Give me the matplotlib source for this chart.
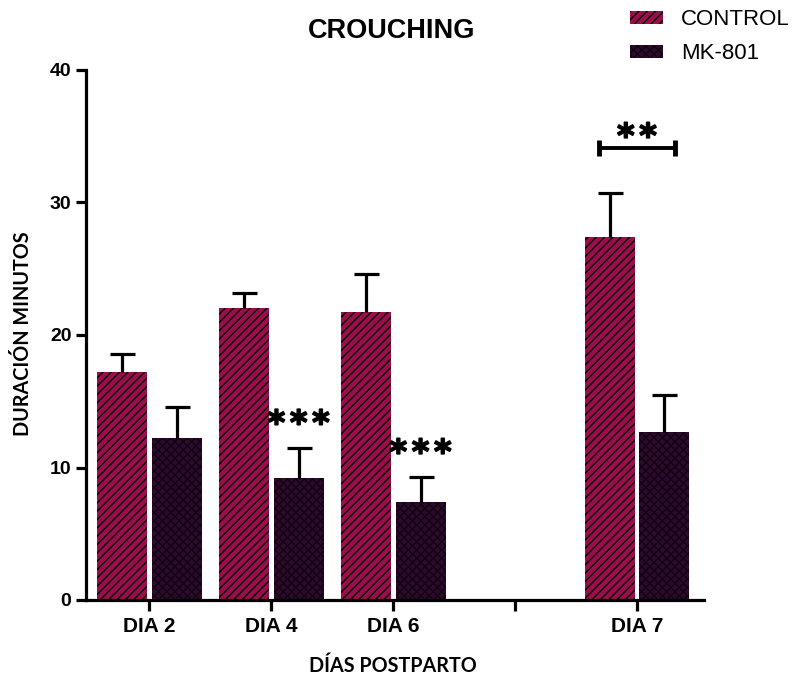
"""Grouped bar chart of crouching duration by postpartum day."""

import matplotlib

matplotlib.use("Agg")
import matplotlib.patheffects as pe
import matplotlib.pyplot as plt
import numpy as np

days = ["DIA 2", "DIA 4", "DIA 6", "", "DIA 7"]
control_mean = [17.2, 22.0, 21.7, np.nan, 27.4]
control_sem = [1.4, 1.2, 2.9, np.nan, 3.3]
mk801_mean = [12.2, 9.2, 7.4, np.nan, 12.7]
mk801_sem = [2.4, 2.3, 1.9, np.nan, 2.8]
mk801_stars = ["", "***", "***", "", ""]

CONTROL_COLOR = "#9c0d4c"
MK_COLOR = "#2c0a2f"

plt.rcParams["hatch.linewidth"] = 1.0

fig = plt.figure(figsize=(7.96, 6.81), dpi=100)
ax = fig.add_axes([86 / 796, 81 / 681, 618 / 796, 530 / 681])

x = np.arange(len(days))
width = 0.41
offset = 0.225


def upper_error(ax, xs, mean, sem):
    """Draw only the upper half of the error bars, with a cap on top."""
    mean = np.asarray(mean)
    sem = np.asarray(sem)
    ax.errorbar(xs, mean, yerr=[np.zeros(len(xs)), sem], fmt="none",
                ecolor="black", elinewidth=2.3, capsize=0, zorder=3)
    ax.plot(xs, mean + sem, ls="none", marker="_", markersize=18,
            markeredgewidth=2.3, color="black", zorder=3)


def stars(ax, xc, y, label, spacing=16):
    """Write asterisks one by one so they keep a gap between them."""
    n = len(label)
    for i in range(n):
        ax.annotate("*", (xc, y), xytext=((i - (n - 1) / 2) * spacing, 0),
                    textcoords="offset points", ha="center", va="center",
                    fontsize=24, fontweight="bold", family="DejaVu Sans",
                    path_effects=[pe.withStroke(linewidth=1.2, foreground="black")])


ax.bar(x - offset, control_mean, width, color=CONTROL_COLOR, edgecolor="black",
       linewidth=0, hatch="////", label="CONTROL", zorder=2)
ax.bar(x + offset, mk801_mean, width, color=MK_COLOR, edgecolor="#14020f",
       linewidth=0, hatch="xxxx", label="MK-801", zorder=2)
upper_error(ax, x - offset, control_mean, control_sem)
upper_error(ax, x + offset, mk801_mean, mk801_sem)

# significance marks above the MK-801 bars
for xi, m, s, lab in zip(x, mk801_mean, mk801_sem, mk801_stars):
    if lab:
        stars(ax, xi + offset, m + s + 1.75, lab)

# bracket for the day 7 comparison
by = 34.1
ax.plot([4 - 0.31, 4 + 0.31], [by, by], color="black", lw=2.8, solid_capstyle="butt")
for bx in (4 - 0.31, 4 + 0.31):
    ax.plot([bx, bx], [by - 0.6, by + 0.6], color="black", lw=3.5, solid_capstyle="butt")
stars(ax, 4, by + 0.8, "**")

ax.set_xlim(-0.52, 4.55)
ax.set_ylim(0, 40)
ax.set_yticks([0, 10, 20, 30, 40])
ax.set_xticks(x)
ax.set_xticklabels(days, fontsize=15, fontweight="bold", family="Liberation Sans")
for lab in ax.get_yticklabels():
    lab.set_fontsize(14)
    lab.set_fontweight("bold")
    lab.set_family("Liberation Sans")

for side in ("top", "right"):
    ax.spines[side].set_visible(False)
for side in ("left", "bottom"):
    ax.spines[side].set_linewidth(2.3)
ax.tick_params(axis="y", length=7.5, width=2.3, pad=3)
ax.tick_params(axis="x", length=8, width=2.3, pad=4)

fig.text(23.5 / 796, 1 - 334 / 681, "DURACIÓN MINUTOS", rotation=90,
         ha="center", va="center", fontsize=14.2, fontweight="bold", family="Lato")
fig.text(393 / 796, 1 - 666 / 681, "DÍAS POSTPARTO", ha="center", va="center",
         fontsize=14.2, fontweight="bold", family="Lato")
fig.text(392 / 796, 1 - 31 / 681, "CROUCHING", ha="center", va="center",
         fontsize=19.5, fontweight="bold", family="Liberation Sans")

fig.legend(loc="upper left", bbox_to_anchor=(610 / 796, 1.016), frameon=False,
           prop={"family": "Liberation Sans", "size": 16},
           handlelength=1.5, handleheight=0.55, handletextpad=0.8, labelspacing=0.6)

fig.savefig("out.png", dpi=100)
